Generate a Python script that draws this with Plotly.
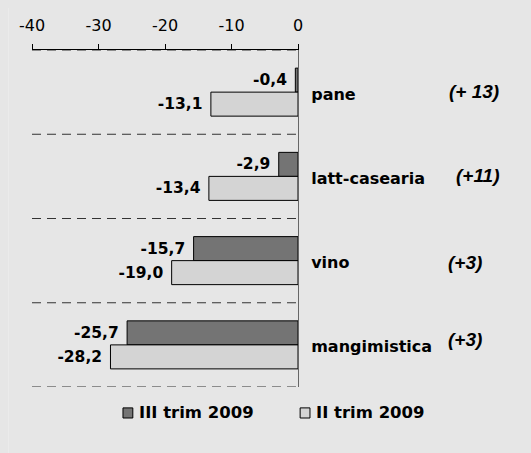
import plotly.graph_objects as go

# categories and values
categorie = ['pane', 'latt-casearia', 'vino', 'mangimistica']
serie_1 = 'III trim 2009'
iii_trim_2009 = [-0.4, -2.9, -15.7, -25.7]
serie_2 = 'II trim 2009'
ii_trim_2009 = [-13.1, -13.4, -19.0, -28.2]
variazioni = ['(+ 13)', '(+11)', '(+3)', '(+3)']
ticks_x = [-40, -30, -20, -10, 0]

SCURO = '#747474'
CHIARO = '#d4d4d4'
FONT = 'DejaVu Sans'


def etichetta(v):
    return f'{v:.1f}'.replace('.', ',')


fig = go.Figure()

for nome, valori, colore in [(serie_1, iii_trim_2009, SCURO), (serie_2, ii_trim_2009, CHIARO)]:
    fig.add_trace(go.Bar(
        y=categorie, x=valori, orientation='h', name=nome,
        marker=dict(color=colore, line=dict(color='#000000', width=1)),
        text=[etichetta(v) + ' ' for v in valori], textposition='outside',
        textfont=dict(family=FONT, size=15.5, color='#000000', weight='bold'),
        cliponaxis=False, showlegend=False,
    ))

# dashed separators between categories
for i in range(len(categorie) + 1):
    fig.add_shape(type='line', xref='paper', x0=0, x1=1, yref='y',
                  y0=i - 0.5, y1=i - 0.5,
                  line=dict(color='#333333', width=1, dash='9px,6px'))

# faint light edge on the left of the panel
fig.add_shape(type='line', xref='paper', x0=-0.0902, x1=-0.0902, yref='paper',
              y0=-0.3, y1=1.2, line=dict(color='#efefef', width=1))

# variation notes on the right
note_x = [1.762, 1.762, 1.700, 1.700]
note_shift = [1, 1, -2, 5]
for cat, nota, nx, ns in zip(categorie, variazioni, note_x, note_shift):
    fig.add_annotation(x=nx, xref='paper', y=cat, yref='y', text=nota,
                       showarrow=False, xanchor='right', yshift=ns,
                       font=dict(family='Liberation Sans', size=19, color='#000000',
                                 weight='bold', style='italic'))

# legend drawn by hand: small squares + text
for nome, colore, x0 in [(serie_1, SCURO, 0.342), (serie_2, CHIARO, 1.008)]:
    fig.add_shape(type='rect', xref='paper', yref='paper', x0=x0, x1=x0 + 0.037,
                  y0=-0.092, y1=-0.062, fillcolor=colore,
                  line=dict(color='#000000', width=1))
    fig.add_annotation(x=x0 + 0.052, xref='paper', y=-0.077, yref='paper', text=nome,
                       showarrow=False, xanchor='left', yanchor='middle',
                       font=dict(family=FONT, size=16.5, color='#000000', weight='bold'))

fig.update_layout(
    width=531, height=453,
    margin=dict(l=24, r=241, t=42, b=74),
    paper_bgcolor='#e6e6e6', plot_bgcolor='#e6e6e6',
    barmode='group', bargap=0.43, bargroupgap=0,
    font=dict(family=FONT, size=15, color='#000000'),
    showlegend=False,
    xaxis=dict(range=[-40, 0], side='top', tickvals=ticks_x,
               ticktext=[str(t) for t in ticks_x], ticks='outside',
               ticklen=5, tickcolor='#000000', showline=True, linecolor='#000000',
               linewidth=1, showgrid=False, zeroline=False, ticklabelstandoff=7,
               automargin=False, tickfont=dict(family=FONT, size=16)),
    yaxis=dict(range=[3.5, -0.5], side='right', showline=True, linecolor='#666666',
               linewidth=1, showgrid=False, zeroline=False, ticks='',
               ticklabelstandoff=9, ticklabelshift=-2, tickvals=categorie, ticktext=categorie,
               automargin=False, tickfont=dict(family=FONT, size=16, weight='bold')),
)

fig.write_html('out.html', post_script="document.body.style.backgroundColor='#e6e6e6';")
